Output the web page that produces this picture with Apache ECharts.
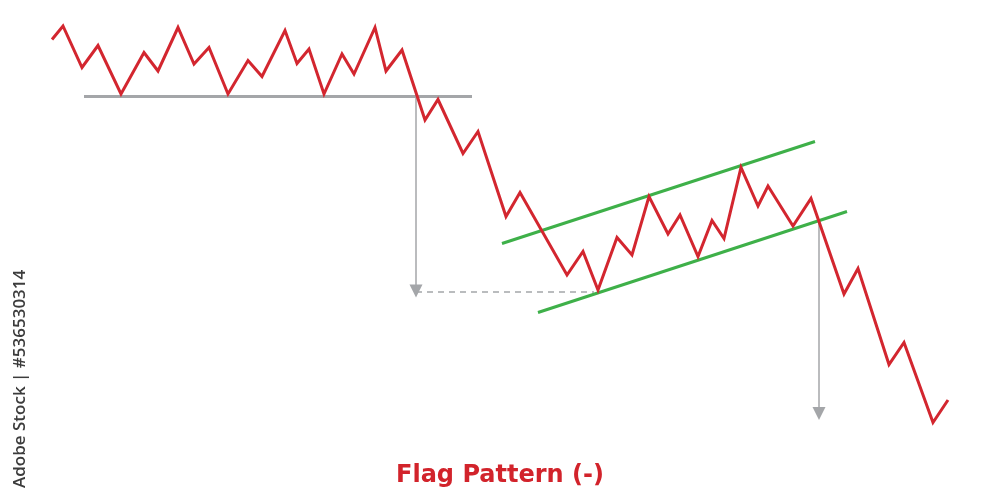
<!DOCTYPE html>
<html>
<head>
<meta charset="utf-8">
<script src="https://cdn.jsdelivr.net/npm/echarts@6/dist/echarts.min.js"></script>
<style>
html,body{margin:0;padding:0;background:#fff;}
#c{width:1000px;height:500px;}
</style>
</head>
<body>
<div id="c"></div>
<script>
// Price path (x = time, y = price)
var priceX = [5.2, 6.3, 8.2, 9.8, 12.1, 14.4, 15.8, 17.8, 19.4, 20.9, 22.8, 24.8, 26.2, 28.5, 29.7, 30.9, 32.4, 34.2, 35.4, 37.5, 38.6, 40.2,
              42.5, 43.8, 46.3, 47.8, 50.6, 52.0, 56.7, 58.3, 59.8, 61.7, 63.2, 64.9, 66.8, 68.0, 69.8, 71.2, 72.4, 74.1, 75.8, 76.8, 79.3, 81.1,
              84.4, 85.8, 88.9, 90.4, 93.3, 94.8];
var priceY = [92.1, 94.8, 86.5, 90.9, 81.2, 89.5, 85.8, 94.5, 87.2, 90.5, 81.2, 87.9, 84.7, 93.9, 87.3, 90.2, 81.2, 89.2, 85.2, 94.5, 85.8, 90.0,
              76.0, 80.1, 69.3, 73.7, 56.7, 61.5, 45.0, 49.7, 42.0, 52.5, 49.0, 60.7, 53.2, 57.0, 48.7, 55.9, 52.3, 66.5, 58.8, 62.8, 54.8, 60.3,
              41.2, 46.3, 27.1, 31.5, 15.5, 20.0];
// Support level
var supportX = [8.4, 47.2];
var supportY = [80.7, 80.7];
// Flag channel
var upperX = [50.2, 81.5];
var upperY = [51.3, 71.7];
var lowerX = [53.8, 84.7];
var lowerY = [37.5, 57.7];
// Measured moves
var arrow1X = [41.6, 41.6];
var arrow1Y = [80.7, 41.8];
var dashX = [41.6, 59.4];
var dashY = [41.6, 41.6];
var arrow2X = [81.9, 81.9];
var arrow2Y = [56.0, 17.3];

function pairs(xs, ys){ return xs.map(function(x,i){ return [x, ys[i]]; }); }

var RED = '#d3262f';
var GRAY = '#a4a6a9';
var GREEN = '#3eb049';

var chart = echarts.init(document.getElementById('c'), null, {renderer:'canvas'});
chart.setOption({
  backgroundColor: '#ffffff',
  animation: false,
  title: {
    text: 'Flag Pattern (-)',
    left: 'center',
    top: 459,
    textStyle: {color: '#d2232b', fontSize: 24, fontWeight: 'bold', fontFamily: 'DejaVu Sans'}
  },
  grid: {left: 0, right: 0, top: 0, bottom: 0},
  xAxis: {type: 'value', min: 0, max: 100, show: false},
  yAxis: {type: 'value', min: 0, max: 100, show: false},
  graphic: [{
    type: 'text',
    x: 12, y: 488,
    rotation: Math.PI / 2,
    style: {text: 'Adobe Stock | #536530314', fill: '#3c3c3c', font: '600 17px "Open Sans"'}
  }],
  series: [
    {type: 'line', data: pairs(supportX, supportY), symbol: 'none', lineStyle: {color: GRAY, width: 3}, z: 1},
    {type: 'line', data: pairs(dashX, dashY), symbol: 'none', lineStyle: {color: GRAY, width: 1.5, type: [6, 5]}, z: 1},
    {type: 'lines', coordinateSystem: 'cartesian2d', symbol: ['none', 'triangle'], symbolSize: [8, 13],
     lineStyle: {color: GRAY, width: 1.5, opacity: 1}, z: 1,
     data: [{coords: pairs(arrow1X, arrow1Y)}, {coords: pairs(arrow2X, arrow2Y)}]},
    {type: 'line', data: pairs(upperX, upperY), symbol: 'none', lineStyle: {color: GREEN, width: 3}, z: 2},
    {type: 'line', data: pairs(lowerX, lowerY), symbol: 'none', lineStyle: {color: GREEN, width: 3}, z: 2},
    {type: 'line', data: pairs(priceX, priceY), symbol: 'none', lineStyle: {color: RED, width: 3, join: 'miter'}, z: 3}
  ]
});
</script>
</body>
</html>
